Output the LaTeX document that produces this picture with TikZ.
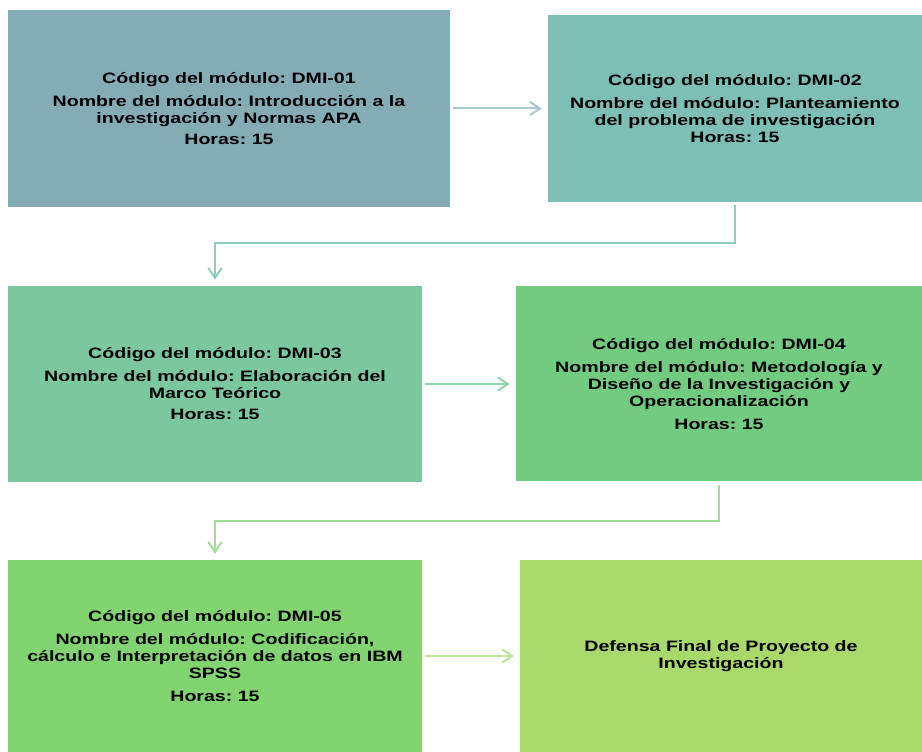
\documentclass[tikz,border=0pt]{standalone}
\usepackage{fontspec}
\usepackage{tikz}
\usetikzlibrary{arrows.meta}

\newfontfamily\modfont{Liberation Sans}[FakeStretch=1.3]

\definecolor{cajaA}{RGB}{132,172,181}
\definecolor{cajaB}{RGB}{125,191,180}
\definecolor{cajaC}{RGB}{122,199,160}
\definecolor{cajaD}{RGB}{114,204,128}
\definecolor{cajaE}{RGB}{130,212,112}
\definecolor{cajaF}{RGB}{170,217,107}
\definecolor{flechaA}{RGB}{168,199,207}
\definecolor{flechaB}{RGB}{140,204,190}
\definecolor{flechaC}{RGB}{140,214,170}
\definecolor{flechaD}{RGB}{160,224,150}
\definecolor{flechaE}{RGB}{190,229,150}

\begin{document}
\begin{tikzpicture}[x=0.75pt,y=0.75pt,yscale=-1,xscale=1,
	modulo/.style={inner sep=0pt,align=center,text=black,font={\modfont\bfseries\frenchspacing\fontsize{11.3}{12.75}\selectfont}},
	flecha/.style={line width=1.5pt,-{Straight Barb[length=7.5pt,width=10pt,line width=1.5pt]},shorten <=2.25pt,shorten >=4.5pt}]
	\useasboundingbox (0,0) rectangle (922,752);
	
	%Shape: Rectangle [DMI-01]
	\node (m1) [modulo,fill=cajaA,minimum width=331.5pt,minimum height=147.75pt] at (229,108.5) {Código del módulo: DMI-01\\[4.5pt]
		Nombre del módulo: Introducción a la\\
		investigación y Normas APA\\[3pt]
		Horas: 15};
	%Shape: Rectangle [DMI-02]
	\node (m2) [modulo,fill=cajaB,minimum width=280.5pt,minimum height=140.25pt] at (735,108.5) {Código del módulo: DMI-02\\[4.5pt]
		Nombre del módulo: Planteamiento\\
		del problema de investigación\\
		Horas: 15};
	%Shape: Rectangle [DMI-03]
	\node (m3) [modulo,fill=cajaC,minimum width=310.5pt,minimum height=147pt] at (215,384) {Código del módulo: DMI-03\\[4.5pt]
		Nombre del módulo: Elaboración del\\
		Marco Teórico\\[3pt]
		Horas: 15};
	%Shape: Rectangle [DMI-04]
	\node (m4) [modulo,fill=cajaD,minimum width=304.5pt,minimum height=146.25pt] at (719,384) {Código del módulo: DMI-04\\[4.5pt]
		Nombre del módulo: Metodología y\\
		Diseño de la Investigación y\\
		Operacionalización\\[4.5pt]
		Horas: 15};
	%Shape: Rectangle [DMI-05]
	\node (m5) [modulo,fill=cajaE,minimum width=310.5pt,minimum height=144pt] at (215,656) {Código del módulo: DMI-05\\[4.5pt]
		Nombre del módulo: Codificación,\\
		cálculo e Interpretación de datos en IBM\\
		SPSS\\[4.5pt]
		Horas: 15};
	%Shape: Rectangle [defensa]
	\node (m6) [modulo,fill=cajaF,minimum width=301.5pt,minimum height=144pt] at (721,656) {Defensa Final de Proyecto de\\
		Investigación};
	
	%Straight Lines
	\draw [flecha,draw=flechaA] (m1) -- (m2);
	\draw [flecha,draw=flechaB] (m2.south) -- ++(0,41) -| (m3.north);
	\draw [flecha,draw=flechaC] (m3) -- (m4);
	\draw [flecha,draw=flechaD] (m4.south) -- ++(0,39) -| (m5.north);
	\draw [flecha,draw=flechaE] (m5) -- (m6);
	
\end{tikzpicture}
\end{document}
